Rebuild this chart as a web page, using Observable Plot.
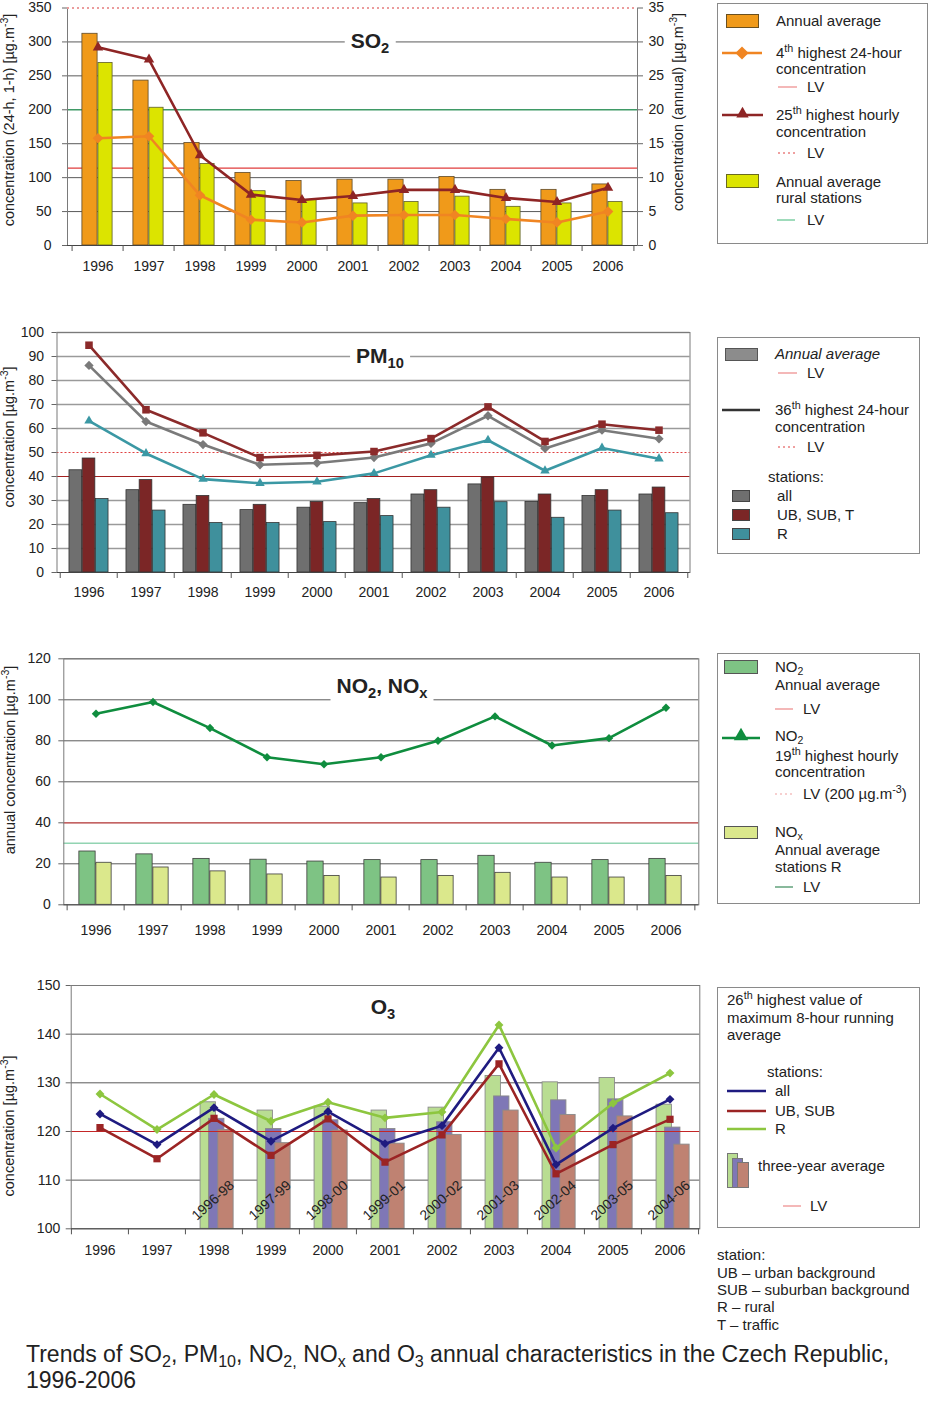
<!DOCTYPE html>
<html><head><meta charset="utf-8">
<script src="https://cdn.jsdelivr.net/npm/d3@7"></script>
<script src="https://cdn.jsdelivr.net/npm/@observablehq/plot@0.6"></script>
<style>
body{margin:0;background:#fff;font-family:"Liberation Sans",Arial,sans-serif;color:#222;}
#root{position:relative;width:950px;height:1416px;overflow:hidden;background:#fff;}
.t{position:absolute;white-space:nowrap;font-size:15px;line-height:16px;}
sup{font-size:0.72em;vertical-align:baseline;position:relative;top:-0.55em;}
sub{font-size:0.7em;vertical-align:baseline;position:relative;top:0.32em;}
.box{position:absolute;border:1px solid #8a8a8a;background:#fff;box-sizing:border-box;}
.ttl{position:absolute;background:#fff;font-weight:bold;font-size:21px;line-height:26px;padding:0 6px;white-space:nowrap;transform:translate(-50%,-50%);}
.ax{position:absolute;white-space:nowrap;font-size:14.5px;line-height:16px;transform:translate(-50%,-50%) rotate(-90deg);}
.cap{position:absolute;white-space:nowrap;font-size:23px;line-height:26px;}
</style></head><body><div id="root"></div>
<script>
// ---------- data ----------
const years = [1996, 1997, 1998, 1999, 2000, 2001, 2002, 2003, 2004, 2005, 2006];

// SO2
const so2Ticks = [0, 50, 100, 150, 200, 250, 300, 350];
const so2AnnualAvg = [31.2, 24.3, 15.1, 10.7, 9.5, 9.7, 9.7, 10.1, 8.2, 8.2, 9.0];      // right axis (annual)
const so2AnnualRural = [26.9, 20.3, 12.0, 8.0, 6.7, 6.2, 6.4, 7.2, 5.7, 6.2, 6.4];     // right axis (annual)
const so2Fourth24h = [158, 161, 74, 38, 34, 44, 45, 45, 39, 34, 50];
const so2Hourly25 = [292, 274, 133, 75, 67, 73, 82, 82, 70, 64, 85];
const so2LV24h = 114, so2LVHourly = 350, so2LVRuralAnnual = 20;

// PM10
const pmTicks = [0, 10, 20, 30, 40, 50, 60, 70, 80, 90, 100];
const pmAnnualAll = [42.6, 34.3, 28.2, 26.0, 27.0, 28.9, 32.5, 36.7, 29.4, 31.9, 32.5];
const pmAnnualUrban = [47.5, 38.5, 31.9, 28.2, 29.4, 30.6, 34.3, 39.6, 32.5, 34.3, 35.4];
const pmAnnualRural = [30.6, 25.8, 20.6, 20.6, 21.0, 23.5, 27.0, 29.3, 22.8, 25.8, 24.7];
const pm36All = [86.3, 62.9, 53.3, 44.9, 45.6, 47.9, 53.8, 65.3, 51.7, 59.3, 55.7];
const pm36Urban = [94.7, 67.8, 58.2, 47.9, 48.8, 50.4, 55.8, 69.0, 54.6, 61.8, 59.3];
const pm36Rural = [63.2, 49.6, 38.9, 37.2, 37.8, 41.3, 48.9, 55.1, 42.4, 51.9, 47.4];
const pmLVAnnual = 40, pmLV24h = 50;

// NO2, NOx
const no2Ticks = [0, 20, 40, 60, 80, 100, 120];
const no2Annual = [26.0, 24.6, 22.4, 22.0, 21.1, 21.8, 21.8, 23.9, 20.5, 21.8, 22.4];
const noxRural = [20.5, 18.2, 16.3, 14.8, 14.1, 13.3, 14.1, 15.6, 13.3, 13.3, 14.1];
const no2Hourly19 = [93.2, 98.9, 86.2, 72.0, 68.6, 72.0, 80.0, 91.9, 77.7, 81.3, 96.1];
const no2LVAnnual = 40, noxLV = 30;

// O3
const o3Ticks = [100, 110, 120, 130, 140, 150];
const o3All = [123.6, 117.3, 124.9, 118.0, 124.1, 117.5, 121.2, 137.2, 113.2, 120.7, 126.6];
const o3Urban = [120.8, 114.4, 122.7, 115.1, 122.6, 113.7, 119.3, 133.9, 111.3, 117.3, 122.5];
const o3Rural = [127.7, 120.4, 127.6, 122.1, 126.0, 122.8, 124.0, 141.9, 116.6, 125.8, 132.0];
const o3Periods = ["1996-98", "1997-99", "1998-00", "1999-01", "2000-02", "2001-03", "2002-04", "2003-05", "2004-06"];
const o3PeriodEnd = [1998, 1999, 2000, 2001, 2002, 2003, 2004, 2005, 2006];
const o3Avg3Rural = [126.0, 124.3, 125.1, 124.3, 124.9, 131.4, 130.1, 131.0, 125.5];
const o3Avg3All = [122.6, 120.5, 122.3, 120.5, 121.9, 127.2, 126.4, 126.6, 120.8];
const o3Avg3Urban = [120.3, 117.6, 120.2, 117.5, 119.3, 124.3, 123.4, 123.1, 117.3];
const o3LV = 120;

// ---------- helpers ----------
const FONT = "'Liberation Sans', Arial, sans-serif";
const root = document.getElementById("root");
const baseStyle = {fontFamily: FONT, fontSize: "14px", color: "#222", background: "none", overflow: "visible"};
const yearFmt = d => String(d);
function place(el, left, top) {
  el.style.position = "absolute"; el.style.left = left + "px"; el.style.top = top + "px";
  root.appendChild(el);
}
function boundaryTicks(bw, plotH) {
  return [
    Plot.ruleX(years, {dx: -bw / 2, insetTop: plotH, insetBottom: -6, stroke: "#555"}),
    Plot.ruleX([years[years.length - 1]], {dx: bw / 2, insetTop: plotH, insetBottom: -6, stroke: "#555"})
  ];
}
function inset(bw, offset, w) { return {insetLeft: bw / 2 + offset, insetRight: bw / 2 - offset - w}; }

// ---------- SO2 ----------
{
  const W = 705, H = 285, ML = 67, MR = 68, MT = 7.5, MB = 40;
  const bw = (W - ML - MR) / years.length, ph = H - MT - MB;
  const rows = years.map((year, i) => ({year, avg: so2AnnualAvg[i], rural: so2AnnualRural[i], d4: so2Fourth24h[i], h25: so2Hourly25[i]}));
  const k = so2Ticks[so2Ticks.length - 1] / 35; // left / right axis ratio
  const svg = Plot.plot({
    width: W, height: H, marginLeft: ML, marginRight: MR, marginTop: MT, marginBottom: MB,
    style: baseStyle,
    x: {type: "band", domain: years, padding: 0},
    y: {domain: [0, 350]},
    marks: [
      Plot.ruleY(so2Ticks.filter(v => v > 0 && v < 350 && v !== so2LVRuralAnnual * k), {stroke: "#5a5a5a", strokeWidth: 1}),
      Plot.ruleY([so2LV24h], {stroke: "#e03c3c", strokeWidth: 1.2}),
      Plot.ruleY([so2LVRuralAnnual * k], {stroke: "#3f9a66", strokeWidth: 1.5}),
      Plot.barY(rows, {x: "year", y: d => d.avg * k, fill: "#f09a1a", stroke: "#5e4a2a", strokeWidth: 0.8, ...inset(bw, -16, 16)}),
      Plot.barY(rows, {x: "year", y: d => d.rural * k, fill: "#dce400", stroke: "#5e5e2a", strokeWidth: 0.8, ...inset(bw, 0, 15)}),
      Plot.line(rows, {x: "year", y: "d4", stroke: "#f08522", strokeWidth: 2.6}),
      Plot.dot(rows, {x: "year", y: "d4", symbol: "diamond2", r: 4.8, fill: "#f08522"}),
      Plot.line(rows, {x: "year", y: "h25", stroke: "#8e2525", strokeWidth: 2.6}),
      Plot.dot(rows, {x: "year", y: "h25", symbol: "triangle2", r: 5, fill: "#8e2525"}),
      Plot.frame({stroke: "#7a7a7a"}),
      Plot.ruleY([so2LVHourly], {stroke: "#fff", strokeWidth: 2}),
      Plot.ruleY([so2LVHourly], {stroke: "#d83a3a", strokeWidth: 1.2, strokeDasharray: "2,3"}),
      Plot.ruleY([0], {stroke: "#444"}),
      ...boundaryTicks(bw, ph),
      Plot.axisX({tickSize: 0, tickPadding: 16, label: null, tickFormat: yearFmt}),
      Plot.axisY({ticks: so2Ticks, tickSize: 5, tickPadding: 11, label: null, stroke: "#666"}),
      Plot.axisY({anchor: "right", ticks: so2Ticks, tickFormat: d => d / k, tickSize: 5, tickPadding: 6, label: null, stroke: "#666"})
    ]
  });
  place(svg, 0, 0);
}

// ---------- PM10 ----------
{
  const W = 700, H = 310, ML = 56.5, MR = 10.5, MT = 32, MB = 38, TOP = 300;
  const bw = (W - ML - MR) / years.length, ph = H - MT - MB;
  const rows = years.map((year, i) => ({year, all: pmAnnualAll[i], urban: pmAnnualUrban[i], rural: pmAnnualRural[i],
    h36all: pm36All[i], h36urban: pm36Urban[i], h36rural: pm36Rural[i]}));
  const bwid = 13.2, st = -19.8;
  const svg = Plot.plot({
    width: W, height: H, marginLeft: ML, marginRight: MR, marginTop: MT, marginBottom: MB,
    style: baseStyle,
    x: {type: "band", domain: years, padding: 0},
    y: {domain: [0, 100]},
    marks: [
      Plot.ruleY(pmTicks.filter(v => v > 0 && v !== pmLVAnnual && v !== pmLV24h), {stroke: "#9a9a9a", strokeWidth: 1.4}),
      Plot.ruleY([pmLVAnnual], {stroke: "#a32020", strokeWidth: 1.2}),
      Plot.ruleY([pmLV24h], {stroke: "#e04040", strokeWidth: 1.2, strokeDasharray: "2,2"}),
      Plot.barY(rows, {x: "year", y: "all", fill: "#6f6f6f", stroke: "#333", strokeWidth: 0.8, ...inset(bw, st, bwid)}),
      Plot.barY(rows, {x: "year", y: "urban", fill: "#7b2626", stroke: "#333", strokeWidth: 0.8, ...inset(bw, st + bwid, bwid)}),
      Plot.barY(rows, {x: "year", y: "rural", fill: "#3f909c", stroke: "#333", strokeWidth: 0.8, ...inset(bw, st + 2 * bwid, bwid)}),
      Plot.line(rows, {x: "year", y: "h36all", stroke: "#7a7a7a", strokeWidth: 2.6}),
      Plot.dot(rows, {x: "year", y: "h36all", symbol: "diamond2", r: 4.2, fill: "#7a7a7a"}),
      Plot.line(rows, {x: "year", y: "h36rural", stroke: "#3b98a4", strokeWidth: 2.6}),
      Plot.dot(rows, {x: "year", y: "h36rural", symbol: "triangle2", r: 4.5, fill: "#3b98a4"}),
      Plot.line(rows, {x: "year", y: "h36urban", stroke: "#8b2a2a", strokeWidth: 2.6}),
      Plot.dot(rows, {x: "year", y: "h36urban", symbol: "square2", r: 4.8, fill: "#8b2a2a"}),
      Plot.frame({stroke: "#7a7a7a"}),
      Plot.ruleY([0], {stroke: "#444"}),
      ...boundaryTicks(bw, ph),
      Plot.axisX({tickSize: 0, tickPadding: 15, label: null, tickFormat: yearFmt}),
      Plot.axisY({ticks: pmTicks, tickSize: 5, tickPadding: 8, label: null, stroke: "#666"})
    ]
  });
  place(svg, 0, TOP);
}

// ---------- NO2, NOx ----------
{
  const W = 705, H = 300, ML = 63.3, MR = 6.7, MT = 18.3, MB = 35.7, TOP = 640;
  const bw = (W - ML - MR) / years.length, ph = H - MT - MB;
  const rows = years.map((year, i) => ({year, no2: no2Annual[i], nox: noxRural[i], h19: no2Hourly19[i]}));
  const svg = Plot.plot({
    width: W, height: H, marginLeft: ML, marginRight: MR, marginTop: MT, marginBottom: MB,
    style: baseStyle,
    x: {type: "band", domain: years, padding: 0},
    y: {domain: [0, 120]},
    marks: [
      Plot.ruleY(no2Ticks.filter(v => v > 0 && v !== no2LVAnnual), {stroke: "#5a5a5a", strokeWidth: 1}),
      Plot.ruleY([no2LVAnnual], {stroke: "#b03030", strokeWidth: 1.2}),
      Plot.ruleY([noxLV], {stroke: "#92d4b2", strokeWidth: 1.6}),
      Plot.barY(rows, {x: "year", y: "no2", fill: "#7ec384", stroke: "#3c3c3c", strokeWidth: 0.8, ...inset(bw, -17, 17)}),
      Plot.barY(rows, {x: "year", y: "nox", fill: "#dbe88c", stroke: "#3c3c3c", strokeWidth: 0.8, ...inset(bw, 0, 16)}),
      Plot.line(rows, {x: "year", y: "h19", stroke: "#0f8d3e", strokeWidth: 2.6}),
      Plot.dot(rows, {x: "year", y: "h19", symbol: "diamond2", r: 3.8, fill: "#0f8d3e"}),
      Plot.frame({stroke: "#7a7a7a"}),
      Plot.ruleY([0], {stroke: "#444"}),
      ...boundaryTicks(bw, ph),
      Plot.axisX({tickSize: 0, tickPadding: 20, label: null, tickFormat: yearFmt}),
      Plot.axisY({ticks: no2Ticks, tickSize: 5, tickPadding: 8, label: null, stroke: "#666"})
    ]
  });
  place(svg, 0, TOP);
}

// ---------- O3 ----------
{
  const W = 705, H = 295, ML = 70.7, MR = 5.7, MT = 15, MB = 36.7, TOP = 970;
  const bw = (W - ML - MR) / years.length, ph = H - MT - MB;
  const rows = years.map((year, i) => ({year, all: o3All[i], urban: o3Urban[i], rural: o3Rural[i]}));
  const bars = o3Periods.map((period, i) => ({year: o3PeriodEnd[i], period, rural: o3Avg3Rural[i], all: o3Avg3All[i], urban: o3Avg3Urban[i]}));
  const base = o3Ticks[0], bwid = 15.5;
  const svg = Plot.plot({
    width: W, height: H, marginLeft: ML, marginRight: MR, marginTop: MT, marginBottom: MB,
    style: baseStyle,
    x: {type: "band", domain: years, padding: 0},
    y: {domain: [o3Ticks[0], o3Ticks[o3Ticks.length - 1]]},
    marks: [
      Plot.ruleY(o3Ticks.filter(v => v > base && v !== o3LV), {stroke: "#5a5a5a", strokeWidth: 1}),
      Plot.barY(bars, {x: "year", y1: base, y2: "rural", fill: "#b9dd92", stroke: "#8a8a8a", strokeWidth: 0.9, ...inset(bw, -13.5, bwid)}),
      Plot.barY(bars, {x: "year", y1: base, y2: "all", fill: "#7f77b6", stroke: "#8a8a8a", strokeWidth: 0.9, ...inset(bw, -5, bwid)}),
      Plot.barY(bars, {x: "year", y1: base, y2: "urban", fill: "#bf8272", stroke: "#8a8a8a", strokeWidth: 0.9, ...inset(bw, 4.2, bwid)}),
      Plot.ruleY([o3LV], {stroke: "#c42626", strokeWidth: 1.2}),
      Plot.text(bars, {x: "year", text: "period", frameAnchor: "bottom", dx: 2, dy: -25, rotate: -42, fontSize: 14, fill: "#222"}),
      Plot.line(rows, {x: "year", y: "urban", stroke: "#9b2424", strokeWidth: 2.6}),
      Plot.dot(rows, {x: "year", y: "urban", symbol: "square2", r: 4.6, fill: "#9b2424"}),
      Plot.line(rows, {x: "year", y: "all", stroke: "#1f1b80", strokeWidth: 2.6}),
      Plot.dot(rows, {x: "year", y: "all", symbol: "diamond2", r: 4, fill: "#1f1b80"}),
      Plot.line(rows, {x: "year", y: "rural", stroke: "#8dc63f", strokeWidth: 2.6}),
      Plot.dot(rows, {x: "year", y: "rural", symbol: "diamond2", r: 4, fill: "#8dc63f"}),
      Plot.frame({stroke: "#7a7a7a"}),
      Plot.ruleY([base], {stroke: "#444"}),
      ...boundaryTicks(bw, ph),
      Plot.axisX({tickSize: 0, tickPadding: 16, label: null, tickFormat: yearFmt}),
      Plot.axisY({ticks: o3Ticks, tickSize: 5, tickPadding: 6, label: null, stroke: "#666"})
    ]
  });
  place(svg, 0, TOP);
}

// ---------- texts, legends ----------
function div(cls, html, css) {
  const d = document.createElement("div"); d.className = cls; d.innerHTML = html;
  Object.assign(d.style, css); root.appendChild(d); return d;
}
function txt(x, yc, html, extra = {}) { return div("t", html, {left: x + "px", top: (yc - 8) + "px", ...extra}); }
function box(x, y, w, h) { return div("box", "", {left: x + "px", top: y + "px", width: w + "px", height: h + "px"}); }

// panel titles
div("ttl", "SO<sub>2</sub>", {left: "370px", top: "42px"});
div("ttl", "PM<sub>10</sub>", {left: "380px", top: "357px"});
div("ttl", "NO<sub>2</sub>, NO<sub>x</sub>", {left: "382px", top: "687px"});
div("ttl", "O<sub>3</sub>", {left: "383px", top: "1008px"});

// axis titles
const unit = "[µg.m<sup>-3</sup>]";
div("ax", "concentration (24-h, 1-h) " + unit, {left: "10px", top: "120px"});
div("ax", "concentration (annual) " + unit, {left: "679px", top: "112px"});
div("ax", "concentration " + unit, {left: "10px", top: "437px"});
div("ax", "annual concentration " + unit, {left: "11px", top: "760px"});
div("ax", "concentration " + unit, {left: "10px", top: "1126px"});

// legend boxes
box(717, 3, 211, 241);
box(717, 337, 203, 217);
box(717, 653, 203, 251);
box(717, 987, 203, 241);

// overlay svg for legend swatches
const ov = d3.select(root).append("svg").attr("width", 950).attr("height", 1416)
  .style("position", "absolute").style("left", 0).style("top", 0).style("pointer-events", "none");
function ln(x1, x2, y, color, w = 1.5, dash = null) {
  const l = ov.append("line").attr("x1", x1).attr("x2", x2).attr("y1", y).attr("y2", y).attr("stroke", color).attr("stroke-width", w);
  if (dash) l.attr("stroke-dasharray", dash);
}
function rc(x, y, w, h, fill, stroke) {
  ov.append("rect").attr("x", x).attr("y", y).attr("width", w).attr("height", h).attr("fill", fill).attr("stroke", stroke).attr("stroke-width", 1);
}
function sym(type, x, y, size, fill) {
  ov.append("path").attr("d", d3.symbol(type, size)()).attr("transform", `translate(${x},${y})`).attr("fill", fill);
}

// SO2 legend
rc(726.5, 14.5, 32, 13, "#f09a1a", "#6a5020");
txt(776, 21, "Annual average");
ln(722, 762, 53, "#f08522", 2.6); sym(d3.symbolDiamond2, 742, 53, 110, "#f08522");
txt(776, 53, "4<sup>th</sup> highest 24-hour");
txt(776, 69, "concentration");
ln(778, 797, 87, "#f0a0a0", 1.5); txt(807, 87, "LV");
ln(722, 763, 115, "#8e2525", 2.6); sym(d3.symbolTriangle2, 742.5, 114, 110, "#8e2525");
txt(776, 115, "25<sup>th</sup> highest hourly");
txt(776, 132, "concentration");
ln(778, 797, 153, "#e04040", 1.2, "2,3"); txt(807, 153, "LV");
rc(726.5, 174.5, 32, 13, "#dce400", "#6a6a20");
txt(776, 182, "Annual average");
txt(776, 198, "rural stations");
ln(777, 795, 220, "#7fcfa5", 1.5); txt(807, 220, "LV");

// PM10 legend
rc(725.5, 348.5, 32, 12, "#8c8c8c", "#555");
txt(775, 354, "Annual average", {fontStyle: "italic"});
ln(778, 797, 373, "#f0a0a0", 1.5); txt(807, 373, "LV");
ln(722, 760, 410, "#333", 2.6);
txt(775, 410, "36<sup>th</sup> highest 24-hour");
txt(775, 427, "concentration");
ln(778, 797, 447, "#e04040", 1.2, "2,3"); txt(807, 447, "LV");
txt(768, 477, "stations:");
rc(732.5, 490.5, 17, 11, "#6f6f6f", "#444"); txt(777, 496, "all");
rc(732.5, 509.5, 17, 11, "#7b2626", "#444"); txt(777, 515, "UB, SUB, T");
rc(732.5, 528.5, 17, 11, "#3f909c", "#444"); txt(777, 534, "R");

// NO2 legend
rc(724.5, 660.5, 33, 13, "#7ec384", "#555");
txt(775, 666.5, "NO<sub>2</sub>");
txt(775, 685, "Annual average");
ln(775, 793, 709, "#f0a0a0", 1.5); txt(803, 709, "LV");
ln(722, 760, 738, "#0f8d3e", 2.6); sym(d3.symbolTriangle2, 741, 736, 150, "#0f8d3e");
txt(775, 736, "NO<sub>2</sub>");
txt(775, 755.5, "19<sup>th</sup> highest hourly");
txt(775, 772, "concentration");
ln(775, 793, 794, "#f0a0a0", 1.2, "2,3"); txt(803, 794, "LV (200 µg.m<sup>-3</sup>)");
rc(724.5, 826.5, 33, 12, "#dbe88c", "#555");
txt(775, 831.5, "NO<sub>x</sub>");
txt(775, 850, "Annual average");
txt(775, 867, "stations R");
ln(775, 793, 887, "#3a8a5a", 1.2); txt(803, 887, "LV");

// O3 legend
txt(727, 1000, "26<sup>th</sup> highest value of");
txt(727, 1018, "maximum 8-hour running");
txt(727, 1035, "average");
txt(767, 1072, "stations:");
ln(727, 766, 1091, "#1f1b80", 2.6); txt(775, 1091, "all");
ln(727, 766, 1111, "#9b2424", 2.6); txt(775, 1111, "UB, SUB");
ln(727, 766, 1129, "#8dc63f", 2.6); txt(775, 1129, "R");
rc(727.5, 1153.5, 10, 34, "#b9dd92", "#777");
rc(732.5, 1158.5, 10, 29, "#7f77b6", "#777");
rc(737.5, 1162.5, 11, 25, "#bf8272", "#777");
txt(758, 1166, "three-year average");
ln(783, 801, 1206, "#f0a0a0", 1.5); txt(810, 1206, "LV");

// station notes
txt(717, 1255, "station:");
txt(717, 1273, "UB – urban background");
txt(717, 1290, "SUB – suburban background");
txt(717, 1307, "R – rural");
txt(717, 1325, "T – traffic");

// caption
div("cap", "Trends of SO<sub>2</sub>, PM<sub>10</sub>, NO<sub>2,</sub> NO<sub>x</sub> and O<sub>3</sub> annual characteristics in the Czech Republic,", {left: "26px", top: "1341px"});
div("cap", "1996-2006", {left: "26px", top: "1367px"});
</script></body></html>
